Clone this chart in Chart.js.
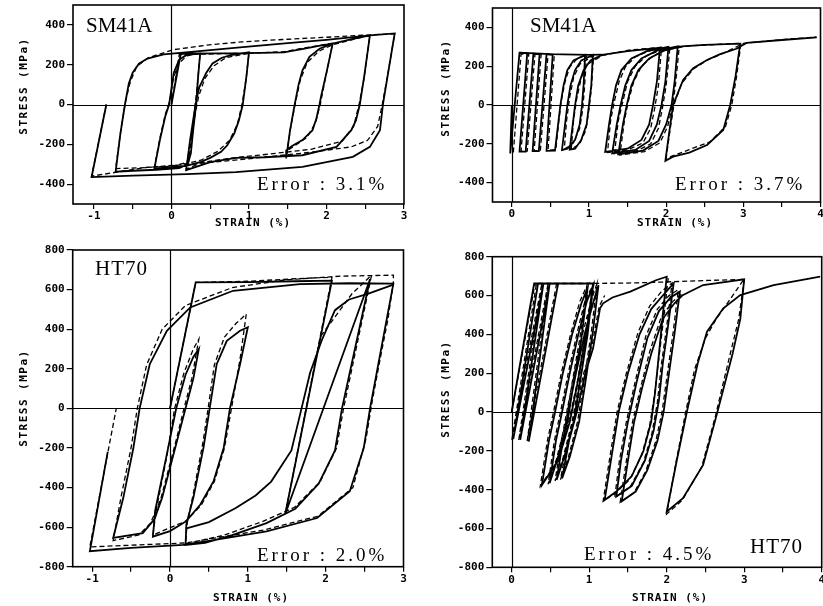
<!DOCTYPE html>
<html><head><meta charset="utf-8">
<script src="https://cdn.jsdelivr.net/npm/chart.js@4/dist/chart.umd.min.js"></script>
<style>
html,body{margin:0;padding:0;background:#fff;overflow:hidden;width:823px;height:606px}
body{position:relative}
canvas{position:absolute}
</style></head><body>
<canvas id="c1" width="411" height="232" style="left:0px;top:0px"></canvas>
<canvas id="c2" width="410" height="232" style="left:420px;top:0px"></canvas>
<canvas id="c3" width="411" height="374" style="left:0px;top:232px"></canvas>
<canvas id="c4" width="410" height="374" style="left:420px;top:232px"></canvas>
<script>
// ---------- tick values ----------
const xTicksLeft = [-1,-0.5,0,0.5,1,1.5,2,2.5,3];
const xTicksRight = [0,0.5,1,1.5,2,2.5,3,3.5,4];
const yTicksSM = [-400,-200,0,200,400];
const yTicksHT = [-800,-600,-400,-200,0,200,400,600,800];

// ---------- SM41A, left panel (strain %, stress MPa) ----------
const sm41aL_solid = [[0,0],[0.12,255],[0.6,257],[1.0,258],[1.45,262],[1.7,280],[1.9,295],[2.08,306],
[2.0,160],[1.93,40],[1.91,0],[1.87,-70],[1.82,-129],[1.69,-179],[1.55,-210],[1.49,-228],[1.48,-271],
[1.53,-130],[1.59,0],[1.64,100],[1.69,172],[1.78,240],[1.91,280],[2.08,306],[2.3,326],[2.56,347],
[2.49,150],[2.43,0],[2.38,-80],[2.32,-129],[2.13,-213],[1.69,-255],[1.2,-265],[0.83,-268],[0.5,-290],[0.19,-330],
[0.24,-180],[0.28,-79],[0.32,20],[0.36,88],[0.45,160],[0.53,206],[0.65,235],[0.79,250],[1.0,262],
[0.97,150],[0.92,0],[0.87,-80],[0.81,-146],[0.72,-205],[0.64,-238],[0.5,-268],[0.38,-288],[0.19,-308],[0,-315],[-0.22,-322],
[-0.15,-180],[-0.08,-60],[-0.03,0],[0,80],[0.03,160],[0.1,225],[0.2,250],[0.37,256],
[0.34,120],[0.32,5],[0.28,-130],[0.25,-246],[0.21,-300],[0.1,-320],[-0.2,-328],[-0.5,-333],[-0.72,-338],
[-0.66,-150],[-0.6,0],[-0.55,105],[-0.5,160],[-0.42,205],[-0.31,231],[-0.1,252],[0.36,268],[0.92,288],[1.5,308],[2.0,325],[2.56,347],[2.88,357],
[2.8,170],[2.73,5],[2.69,-129],[2.56,-213],[2.34,-263],[1.69,-313],[0.83,-340],[0.2,-350],[-0.5,-357],[-1.03,-365],
[-0.84,0]];
const sm41aL_dash = [[0,0],[0.1,250],[0.6,255],[1.0,258],[1.45,265],[1.7,283],[2.08,308],
[1.98,120],[1.92,0],[1.86,-90],[1.75,-165],[1.6,-205],[1.49,-232],[1.48,-265],
[1.54,-110],[1.6,10],[1.66,120],[1.75,210],[1.9,268],[2.08,300],[2.3,322],[2.56,348],
[2.48,120],[2.42,0],[2.35,-110],[2.2,-185],[1.8,-225],[1.24,-250],[0.8,-268],[0.4,-290],[0.19,-325],
[0.25,-170],[0.3,-60],[0.35,40],[0.43,130],[0.55,195],[0.7,235],[1.0,258],
[0.96,120],[0.91,0],[0.85,-100],[0.75,-180],[0.6,-235],[0.38,-280],[0.1,-305],[-0.22,-315],
[-0.15,-170],[-0.08,-50],[-0.02,20],[0.02,120],[0.08,200],[0.2,245],[0.37,258],
[0.33,80],[0.3,-20],[0.26,-170],[0.22,-290],[0,-310],[-0.4,-318],[-0.72,-322],
[-0.65,-120],[-0.59,20],[-0.53,115],[-0.45,190],[-0.3,235],[0.02,275],[0.45,298],[0.92,315],[1.5,328],[2.1,340],[2.56,350],[2.88,355],
[2.79,150],[2.72,0],[2.66,-110],[2.53,-180],[2.32,-213],[1.8,-240],[1.24,-263],[0.38,-296],[-0.3,-315],[-1.03,-360],
[-0.84,0]];

// ---------- SM41A, right panel ----------
const sm41aR_solid = [[0,0],[-0.02,-250],[0.1,270],[0.2,266],[0.1,-240],[0.18,-240],[0.28,264],[0.36,262],[0.27,-238],[0.35,-238],[0.45,262],[0.53,260],[0.45,-236],
[0.56,-235],[0.6,-100],[0.63,0],[0.67,100],[0.72,180],[0.8,230],[0.95,258],
[0.93,100],[0.91,0],[0.88,-100],[0.82,-180],[0.72,-225],[0.65,-232],
[0.69,-100],[0.72,0],[0.76,100],[0.82,180],[0.9,230],[1.05,258],
[1.03,100],[1.0,0],[0.97,-100],[0.9,-180],[0.82,-225],[0.75,-230],
[0.79,-100],[0.82,0],[0.86,100],[0.93,180],[1.02,230],[1.17,258],
[1.5,278],[1.92,295],
[1.88,120],[1.83,0],[1.78,-100],[1.68,-180],[1.5,-225],[1.21,-242],
[1.26,-100],[1.3,0],[1.35,100],[1.42,180],[1.55,240],[1.75,278],[2.03,300],
[1.99,120],[1.94,0],[1.88,-100],[1.78,-185],[1.6,-232],[1.3,-250],
[1.36,-100],[1.41,0],[1.47,100],[1.55,180],[1.68,240],[1.88,280],[2.15,302],
[2.11,120],[2.07,0],[2.0,-100],[1.9,-185],[1.7,-235],[1.38,-255],
[1.44,-100],[1.49,0],[1.55,100],[1.64,180],[1.78,240],[1.98,282],[2.2,302],[2.5,310],[2.96,316],
[2.9,150],[2.83,0],[2.74,-129],[2.53,-206],[2.3,-245],[2.09,-266],[1.99,-288],
[2.04,-140],[2.09,0],[2.22,129],[2.35,190],[2.53,232],[2.7,262],[2.91,290],[3.04,320],[3.5,335],[3.95,349]];
const sm41aR_top = [[0.1,270],[0.5,262],[1.0,258],[1.17,260]];
const sm41aR_dash = [[0.02,-245],[0.12,262],[0.22,262],[0.12,-238],[0.2,-238],[0.3,262],[0.38,260],[0.29,-236],[0.37,-236],[0.47,260],[0.55,258],[0.47,-234],
[0.57,-230],[0.61,-80],[0.64,20],[0.69,120],[0.75,195],[0.85,240],[0.97,258],
[0.94,80],[0.92,-20],[0.88,-120],[0.8,-195],[0.68,-228],
[0.71,-80],[0.75,40],[0.8,140],[0.88,210],[1.06,255],
[1.03,80],[1.0,-20],[0.96,-130],[0.88,-200],[0.77,-228],
[0.8,-80],[0.84,30],[0.9,140],[0.98,210],[1.18,256],
[1.5,282],[1.94,298],
[1.9,100],[1.85,-20],[1.8,-120],[1.7,-195],[1.5,-232],[1.24,-245],
[1.28,-80],[1.33,20],[1.39,120],[1.47,195],[1.6,248],[1.8,282],[2.05,300],
[2.0,100],[1.95,-20],[1.9,-120],[1.8,-200],[1.6,-240],[1.33,-252],
[1.38,-80],[1.44,20],[1.5,120],[1.6,200],[1.75,255],[1.95,285],[2.17,302],
[2.12,100],[2.08,-10],[2.02,-110],[1.92,-195],[1.72,-240],[1.4,-258],
[1.46,-80],[1.51,20],[1.58,120],[1.68,200],[1.82,250],[2.0,285],[2.3,305],[2.97,318],
[2.91,140],[2.85,0],[2.77,-110],[2.57,-190],[2.3,-230],[2.0,-275],
[2.05,-130],[2.1,0],[2.2,110],[2.35,185],[2.55,235],[2.75,268],[3.0,318],[3.5,337],[3.95,350]];

// ---------- HT70, left panel ----------
const ht70L_solid = [[0,0],[0.33,636],[1.0,638],[1.6,642],[2.08,645],
[1.48,-535],
[2.57,652],
[2.21,0],[2.12,-213],[1.91,-381],[1.61,-507],[1.24,-580],[0.8,-640],[0.45,-680],[0.2,-690],
[0.21,-587],[0.3,-452],[0.43,-199],[0.51,0],[0.6,223],[0.73,341],[0.9,392],[1.0,410],
[0.9,223],[0.77,0],[0.69,-199],[0.56,-368],[0.39,-486],[0.21,-570],[0,-620],[-0.22,-648],
[-0.19,-516],[-0.05,-250],[0.08,0],[0.2,170],[0.3,260],[0.37,300],
[0.3,150],[0.2,0],[0.1,-150],[0,-300],[-0.1,-450],[-0.2,-560],[-0.35,-630],[-0.73,-655],
[-0.6,-452],[-0.47,-199],[-0.39,0],[-0.26,223],[-0.04,392],[0.26,510],[0.81,594],[1.67,628],[2.3,632],[2.87,630],
[2.57,0],[2.49,-199],[2.31,-419],[1.89,-554],[1.24,-621],[0.5,-670],[0.17,-690],[-0.5,-705],[-1.03,-722],
[-0.8,-220]];
const ht70L_solid2 = [[0.2,-608],[0.5,-575],[0.84,-505],[1.1,-440],[1.3,-370],[1.56,-213],[1.69,0],[1.8,180],[1.95,344],[2.12,496],[2.3,550],[2.55,580],[2.87,625]];
const ht70L_dash = [[0,0],[0.33,636],[1.0,642],[1.77,658],[2.08,662],
[1.48,-535],
[1.6,-300],[1.75,0],[1.85,200],[1.93,361],[2.12,462],[2.34,580],[2.59,673],
[2.23,0],[2.14,-200],[1.93,-370],[1.6,-500],[1.2,-570],[0.7,-640],[0.2,-685],
[0.22,-580],[0.3,-430],[0.42,-180],[0.49,0],[0.57,220],[0.7,360],[0.85,430],[0.98,476],
[0.9,250],[0.79,0],[0.7,-200],[0.57,-370],[0.4,-490],[0.2,-570],[-0.22,-640],
[-0.17,-500],[-0.04,-240],[0.06,0],[0.18,180],[0.3,300],[0.37,349],
[0.28,150],[0.18,0],[0.08,-160],[-0.02,-310],[-0.12,-460],[-0.25,-580],[-0.4,-640],[-0.73,-668],
[-0.63,-450],[-0.5,-199],[-0.42,0],[-0.3,220],[-0.1,400],[0.2,520],[0.8,610],[1.5,650],[2.2,668],[2.87,673],
[2.87,640],[2.8,450],[2.7,250],[2.6,40],[2.52,-150],[2.35,-400],[1.9,-545],[1.2,-615],[0.2,-680],[-1.03,-700],
[-0.69,0]];

// ---------- HT70, right panel ----------
const ht70R_solid = [[0,0],[0.29,662],[0.6,662],[0.22,-153],[0.49,662],[0.11,-144],[0.41,662],[0.02,-140],[0.34,662],[1.05,662],
[0.98,450],[0.85,150],[0.75,-50],[0.6,-250],[0.39,-376],
[0.48,-150],[0.56,0],[0.66,200],[0.78,400],[0.9,560],[0.98,640],
[0.9,380],[0.8,150],[0.72,-50],[0.6,-230],[0.49,-367],
[0.57,-150],[0.65,0],[0.75,200],[0.86,400],[0.97,570],[1.05,650],
[0.98,400],[0.88,150],[0.8,-50],[0.68,-230],[0.58,-350],
[0.66,-150],[0.73,0],[0.83,200],[0.94,400],[1.05,560],[1.12,654],
[1.05,420],[0.95,150],[0.87,-50],[0.75,-230],[0.65,-342],
[0.74,-150],[0.84,0],[0.95,200],[1.05,328],[1.14,534],[1.18,560],[1.3,590],[1.53,620],[1.87,680],[2.0,697],
[1.95,500],[1.9,300],[1.85,100],[1.8,-50],[1.7,-200],[1.55,-330],[1.35,-410],[1.2,-453],
[1.28,-250],[1.38,0],[1.5,200],[1.65,400],[1.8,530],[1.95,600],[2.09,663],
[2.02,450],[1.95,250],[1.9,60],[1.83,-100],[1.72,-250],[1.55,-380],[1.35,-436],
[1.41,-250],[1.5,-50],[1.61,150],[1.75,380],[1.9,520],[2.05,590],[2.17,620],
[2.1,400],[2.03,200],[1.96,0],[1.88,-150],[1.75,-300],[1.6,-410],[1.42,-460],
[1.5,-250],[1.58,-50],[1.68,120],[1.8,300],[1.95,480],[2.1,560],[2.2,600],[2.47,654],[3.0,683],
[2.95,480],[2.85,300],[2.72,100],[2.65,-7],[2.47,-273],[2.21,-444],[2.0,-513],
[2.13,-250],[2.26,0],[2.4,250],[2.52,414],[2.73,534],[2.95,602],[3.38,654],[3.98,697]];
const ht70R_dashA = [[0,0],[0.3,660],[0.58,662],[0.2,-150],[0.47,662],[0.09,-148],[0.39,662],[0.0,-150],[0.32,662],[1.0,662],[1.6,665],[2.0,670],[2.55,678],[3.0,683]];
const ht70R_dashB = [[1.05,662],[0.97,440],[0.84,140],[0.73,-60],[0.58,-260],[0.37,-380],
[0.46,-150],[0.54,0],[0.64,200],[0.76,400],[0.88,570],[0.97,650],
[0.88,380],[0.78,150],[0.7,-50],[0.58,-240],[0.47,-372],
[0.55,-150],[0.63,0],[0.73,200],[0.84,400],[0.95,580],[1.06,660],
[0.97,400],[0.87,150],[0.78,-50],[0.66,-240],[0.56,-355],
[0.64,-150],[0.71,0],[0.81,200],[0.92,410],[1.03,580],[1.1,660],
[1.03,420],[0.93,150],[0.85,-50],[0.73,-235],[0.63,-348],
[0.72,-150],[0.82,0],[0.93,200],[1.04,350],[1.13,545],[1.2,600]];
const ht70R_dashC = [[2.02,690],[1.96,480],[1.9,280],[1.84,80],[1.78,-70],[1.68,-220],[1.52,-350],[1.33,-420],[1.18,-460],
[1.26,-250],[1.36,0],[1.48,200],[1.63,410],[1.78,545],[1.93,620],[2.07,665],
[2.0,440],[1.93,240],[1.88,50],[1.81,-110],[1.7,-260],[1.53,-385],[1.33,-440],
[1.39,-250],[1.48,-50],[1.59,150],[1.73,390],[1.88,530],[2.03,600],[2.15,630],
[2.08,400],[2.01,200],[1.94,0],[1.86,-150],[1.73,-305],[1.58,-415],[1.4,-465],
[1.48,-250],[1.56,-50],[1.66,120],[1.78,310],[1.93,490],[2.08,570],[2.2,610]];
const ht70R_dashD = [[3.0,683],[2.93,480],[2.82,300],[2.7,100],[2.63,-20],[2.45,-285],[2.2,-455],[2.0,-525],
[2.12,-260],[2.24,-10],[2.36,220],[2.5,380],[2.64,480],[2.8,570],[2.99,680]];

// ---------- annotation texts ----------
const materialSM = 'SM41A';
const materialHT = 'HT70';
const errorTexts = ['Error : 3.1%','Error : 3.7%','Error : 2.0%','Error : 4.5%'];
const yTitle = 'STRESS (MPa)';
const xTitle = 'STRAIN (%)';

// ---------- rendering ----------
const NAME_FONT = '21px "Liberation Serif"';
const ERR_FONT = '19px "Liberation Serif"';
const TITLE_FONT = 'bold 11px "DejaVu Sans Mono"';

const panels = [
  {id:'c1', W:411, H:232, area:{l:73,r:404,t:5,b:204}, xMin:-1.27, xMax:3, yMin:-500, yMax:500,
   xTicks:xTicksLeft, yTicks:yTicksSM, solid:[sm41aL_solid], dashed:[sm41aL_dash],
   texts:[[materialSM,86,32,NAME_FONT,'0px'],[errorTexts[0],257,190,ERR_FONT,'3px']],
   yt:[24,86], xt:[253,223]},
  {id:'c2', W:410, H:232, area:{l:72.5,r:400.5,t:8,b:202}, xMin:-0.25, xMax:4, yMin:-500, yMax:500,
   xTicks:xTicksRight, yTicks:yTicksSM, solid:[sm41aR_solid, sm41aR_top], dashed:[sm41aR_dash],
   texts:[[materialSM,110,32,NAME_FONT,'0px'],[errorTexts[1],255,190,ERR_FONT,'3px']],
   yt:[26,88], xt:[255,223]},
  {id:'c3', W:411, H:374, area:{l:72.7,r:403.5,t:18,b:334.7}, xMin:-1.25, xMax:3, yMin:-800, yMax:800,
   xTicks:xTicksLeft, yTicks:yTicksHT, solid:[ht70L_solid, ht70L_solid2], dashed:[ht70L_dash],
   texts:[[materialHT,95,43,NAME_FONT,'1px'],[errorTexts[2],257,329,ERR_FONT,'3px']],
   yt:[24,166], xt:[251,366]},
  {id:'c4', W:410, H:374, area:{l:72.3,r:401.7,t:24.7,b:335.3}, xMin:-0.25, xMax:4, yMin:-800, yMax:800,
   xTicks:xTicksRight, yTicks:yTicksHT, solid:[ht70R_solid], dashed:[ht70R_dashA, ht70R_dashB, ht70R_dashC, ht70R_dashD],
   texts:[[errorTexts[3],164,328,ERR_FONT,'3px'],[materialHT,330,321,NAME_FONT,'1px']],
   yt:[26,157], xt:[250,366]}
];

const framePlugin = {
  id:'frame',
  beforeDatasetsDraw(chart){
    const {ctx, chartArea:a, scales:{x,y}} = chart;
    ctx.save();
    ctx.strokeStyle = '#000'; ctx.lineWidth = 1.2;
    const y0 = Math.round(y.getPixelForValue(0)) + 0.5, x0 = Math.round(x.getPixelForValue(0)) + 0.5;
    ctx.beginPath();
    ctx.moveTo(a.left, y0); ctx.lineTo(a.right, y0);
    ctx.moveTo(x0, a.top); ctx.lineTo(x0, a.bottom);
    ctx.stroke();
    ctx.restore();
  },
  afterDraw(chart, args, opts){
    const {ctx, chartArea:a} = chart;
    const p = opts.panel;
    ctx.save();
    ctx.strokeStyle = '#000'; ctx.lineWidth = 1.6;
    ctx.strokeRect(a.left, a.top, a.right - a.left, a.bottom - a.top);
    ctx.fillStyle = '#000';
    ctx.textBaseline = 'alphabetic'; ctx.textAlign = 'left';
    for (const [t, tx, ty, f, ls] of p.texts){
      ctx.font = f; ctx.letterSpacing = ls;
      ctx.fillText(t, tx, ty);
    }
    ctx.font = TITLE_FONT; ctx.letterSpacing = '1.5px';
    ctx.textAlign = 'center'; ctx.textBaseline = 'middle';
    ctx.save(); ctx.translate(p.yt[0], p.yt[1]); ctx.rotate(-Math.PI/2);
    ctx.fillText(yTitle, 0, 0); ctx.restore();
    ctx.letterSpacing = '1px';
    ctx.fillText(xTitle, p.xt[0], p.xt[1]);
    ctx.restore();
  }
};

const toXY = arr => arr.map(([x,y]) => ({x, y}));
const tickFont = {family:'DejaVu Sans Mono', size:11, weight:'bold'};

for (const p of panels){
  const datasets = [];
  for (const s of p.solid) datasets.push({data:toXY(s), showLine:true, borderColor:'#000', borderWidth:1.8, pointRadius:0, tension:0, fill:false});
  for (const d of p.dashed) datasets.push({data:toXY(d), showLine:true, borderColor:'#000', borderWidth:1.3, borderDash:[5,3], pointRadius:0, tension:0, fill:false});
  new Chart(document.getElementById(p.id), {
    type:'scatter',
    data:{datasets},
    plugins:[framePlugin],
    options:{
      responsive:false, animation:false, devicePixelRatio:1,
      layout:{padding:{left:0, top:p.area.t, right:p.W - p.area.r, bottom:0}},
      plugins:{legend:{display:false}, tooltip:{enabled:false}, frame:{panel:p}},
      scales:{
        x:{type:'linear', min:p.xMin, max:p.xMax,
           afterFit:s=>{s.height = p.H - p.area.b; s.paddingLeft = 0; s.paddingRight = 0;},
           afterBuildTicks:s=>{s.ticks = p.xTicks.map(v=>({value:v}));},
           ticks:{callback:v=>Number.isInteger(v)?String(v):'', font:tickFont, color:'#000', padding:1, maxRotation:0, autoSkip:false},
           grid:{drawOnChartArea:false, drawTicks:true, tickLength:5, color:'#000', lineWidth:1.2},
           border:{display:false}},
        y:{type:'linear', min:p.yMin, max:p.yMax,
           afterFit:s=>{s.width = p.area.l; s.paddingTop = 0; s.paddingBottom = 0;},
           afterBuildTicks:s=>{s.ticks = p.yTicks.map(v=>({value:v}));},
           ticks:{callback:v=>String(v), font:tickFont, color:'#000', padding:2, autoSkip:false},
           grid:{drawOnChartArea:false, drawTicks:true, tickLength:6, color:'#000', lineWidth:1.2},
           border:{display:false}}
      }
    }
  });
}
</script>
</body></html>
